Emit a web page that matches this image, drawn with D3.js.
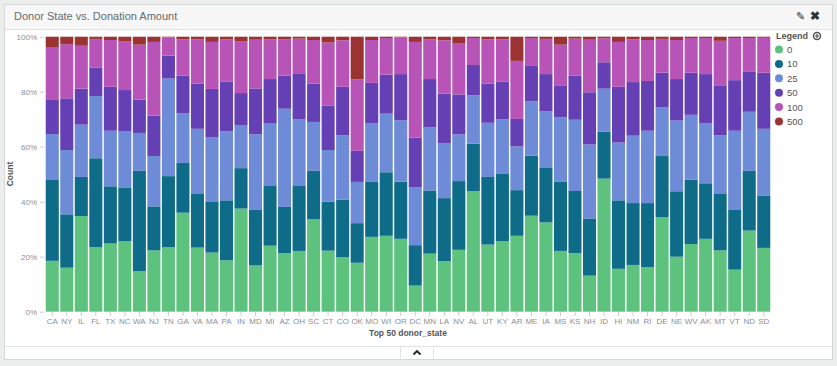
<!DOCTYPE html>
<html>
<head>
<meta charset="utf-8">
<script src="https://cdn.jsdelivr.net/npm/d3@7"></script>
<style>
  body { margin: 0; background: #eceeee; font-family: "Helvetica Neue", "Liberation Sans", Arial, sans-serif; }
  .axis text { fill: #8a8f92; font-size: 8px; }
  .axis path { display: none; }
  .axis line { stroke: #c9cccd; }
</style>
</head>
<body>
<script>
var states = ['CA','NY','IL','FL','TX','NC','WA','NJ','TN','GA','VA','MA','PA','IN','MD','MI','AZ','OH','SC','CT',
  'CO','OK','MO','WI','OR','DC','MN','LA','NV','AL','UT','KY','AR','ME','IA','MS','KS','NH','ID','HI',
  'NM','RI','DE','NE','WV','AK','MT','VT','ND','SD'];

var amounts = ['0', '10', '25', '50', '100', '500'];
var colors = ['#5cc27e', '#0f6c88', '#6d8bd6', '#6440b4', '#b854b8', '#9b3333'];

// share of donations (%) per state, one array per amount bucket
var amt0 = [18.5,16.0,34.8,23.5,24.8,25.6,14.8,22.3,23.5,36.0,23.3,21.5,18.7,37.5,16.8,24.0,21.3,22.1,33.6,22.2,
  19.8,17.8,27.2,27.6,26.5,9.5,21.1,18.4,22.5,43.8,24.4,25.7,27.6,34.9,32.5,22.1,21.3,13.1,48.4,15.6,
  17.0,16.2,34.4,20.0,24.6,26.5,22.3,15.3,29.5,23.2];
var amt10 = [29.4,19.4,14.2,32.3,20.8,19.4,36.4,16.0,25.8,18.1,19.5,18.4,21.8,14.7,20.4,21.7,16.8,23.6,17.6,17.8,
  21.0,14.4,20.0,23.1,20.8,14.7,23.0,22.9,25.0,17.3,24.6,24.4,16.6,21.9,20.0,25.1,22.6,20.8,17.1,24.9,
  22.5,23.3,22.2,23.8,23.4,20.2,20.5,21.7,21.7,18.9];
var amt25 = [16.7,23.4,19.0,22.6,20.2,20.5,13.8,18.3,35.5,18.1,23.7,23.6,25.1,15.7,27.3,22.7,35.7,24.2,17.8,18.8,
  23.4,15.0,21.4,21.3,22.3,21.1,22.9,20.0,17.0,17.6,19.7,19.8,15.9,19.7,20.3,23.5,25.9,26.9,15.6,21.0,
  24.5,26.3,17.8,25.7,23.6,21.9,21.4,28.8,21.5,24.4];
var amt50 = [12.4,18.8,13.1,10.3,16.0,15.1,12.1,14.7,8.3,13.6,16.5,17.5,18.0,11.6,16.7,16.2,12.0,16.8,14.0,16.2,
  17.6,11.3,14.6,14.2,16.8,18.0,17.6,18.0,14.5,11.0,14.2,13.7,10.0,13.1,13.6,11.4,16.0,19.0,9.6,20.3,
  19.5,18.1,12.5,15.1,15.3,17.8,17.9,18.4,14.5,20.4];
var amt100 = [19.0,19.7,15.6,10.5,17.0,17.8,20.0,26.8,6.7,13.2,16.0,17.1,15.4,18.9,17.7,14.4,13.2,12.6,15.8,22.9,
  16.9,26.0,15.6,13.3,13.4,34.8,14.4,19.4,18.7,9.8,16.1,15.4,21.1,9.9,12.8,15.0,13.5,19.1,8.7,16.3,
  15.5,14.9,12.3,14.2,12.6,13.1,16.4,15.3,12.3,12.7];
var amt500 = [4.0,2.7,3.3,0.8,1.2,1.6,2.9,1.9,0.2,1.0,1.0,1.9,1.0,1.6,1.1,1.0,1.0,0.7,1.2,2.1,
  1.3,15.5,1.2,0.5,0.2,1.9,1.0,1.3,2.3,0.5,1.0,1.0,8.8,0.5,0.8,2.9,0.7,1.1,0.6,1.9,
  1.0,1.2,0.8,1.2,0.5,0.5,1.5,0.5,0.5,0.4];

var series = [amt0, amt10, amt25, amt50, amt100, amt500];
var yTicks = [0, 0.2, 0.4, 0.6, 0.8, 1];

var W = 837, H = 366;
var svg = d3.select('body').append('svg')
    .attr('width', W)
    .attr('height', H);

// panel frame
svg.append('rect')
    .attr('x', 4.5).attr('y', 4.5)
    .attr('width', W - 9).attr('height', H - 11)
    .attr('fill', '#fff').attr('stroke', '#d5d8d9');
svg.append('rect')
    .attr('x', 5).attr('y', 5)
    .attr('width', W - 10).attr('height', 24)
    .attr('fill', '#f7f7f7');
svg.append('line')
    .attr('x1', 5).attr('x2', W - 5).attr('y1', 29.5).attr('y2', 29.5)
    .attr('stroke', '#e1e3e4');
svg.append('text')
    .attr('x', 14).attr('y', 20)
    .attr('fill', '#626b70').attr('font-size', 11)
    .text('Donor State vs. Donation Amount');

// header icons
svg.append('text')
    .attr('x', 796).attr('y', 20)
    .attr('fill', '#333').attr('font-size', 11)
    .text('\u270E');
svg.append('text')
    .attr('x', 810).attr('y', 20)
    .attr('fill', '#333').attr('font-size', 12).attr('font-weight', 'bold')
    .text('\u2716');

// footer with toggle tab
svg.append('line')
    .attr('x1', 5).attr('x2', W - 5).attr('y1', 346.5).attr('y2', 346.5)
    .attr('stroke', '#e1e3e4');
svg.append('path')
    .attr('d', 'M400.5,346.5 V358 M433.5,346.5 V358')
    .attr('stroke', '#e1e3e4');
svg.append('path')
    .attr('d', 'M413.5,354.5 L417,351 L420.5,354.5')
    .attr('fill', 'none').attr('stroke', '#222').attr('stroke-width', 1.8);

// chart
var x = d3.scaleBand()
    .domain(states)
    .range([45, 771])
    .paddingInner(0.1)
    .paddingOuter(0.05);

var y = d3.scaleLinear()
    .domain([0, 1])
    .range([311.7, 36.7]);

var rows = states.map(function(s, i) {
  var r = { state: s };
  var total = d3.sum(series, function(a) { return a[i]; });
  amounts.forEach(function(k, j) { r[k] = series[j][i] / total; });
  return r;
});

var stack = d3.stack().keys(amounts);
var layers = stack(rows);

svg.append('g')
  .selectAll('g')
    .data(layers)
  .enter().append('g')
    .attr('fill', function(d, i) { return colors[i]; })
  .selectAll('rect')
    .data(function(d) { return d; })
  .enter().append('rect')
    .attr('x', function(d) { return x(d.data.state); })
    .attr('width', x.bandwidth())
    .attr('y', function(d) { return y(d[1]); })
    .attr('height', function(d) { return y(d[0]) - y(d[1]); });

svg.append('g')
    .attr('class', 'axis')
    .attr('transform', 'translate(44,0)')
    .call(d3.axisLeft(y).tickValues(yTicks).tickFormat(d3.format('.0%')).tickSize(4).tickPadding(3));

svg.append('g')
    .attr('class', 'axis')
    .attr('transform', 'translate(0,312)')
    .call(d3.axisBottom(x).tickSize(4).tickPadding(2));

svg.append('text')
    .attr('transform', 'translate(13,174) rotate(-90)')
    .attr('text-anchor', 'middle')
    .attr('fill', '#555').attr('font-size', 8.5).attr('font-weight', 'bold')
    .text('Count');

svg.append('text')
    .attr('x', 408).attr('y', 336)
    .attr('text-anchor', 'middle')
    .attr('fill', '#555').attr('font-size', 8.5).attr('font-weight', 'bold')
    .text('Top 50 donor_state');

// legend
var legend = svg.append('g').attr('transform', 'translate(775,0)');
legend.append('text')
    .attr('x', 1).attr('y', 39)
    .attr('fill', '#555').attr('font-size', 9).attr('font-weight', 'bold')
    .text('Legend');
legend.append('circle')
    .attr('cx', 42).attr('cy', 36).attr('r', 3.5)
    .attr('fill', 'none').attr('stroke', '#555').attr('stroke-width', 1.5);
legend.append('path')
    .attr('d', 'M40,36 H44 M42,34 V38')
    .attr('stroke', '#555').attr('stroke-width', 1.2);

var item = legend.selectAll('.item')
    .data(amounts)
  .enter().append('g')
    .attr('class', 'item')
    .attr('transform', function(d, i) { return 'translate(0,' + (49.5 + i * 14.4) + ')'; });
item.append('circle')
    .attr('cx', 4).attr('r', 4)
    .attr('fill', function(d, i) { return colors[i]; });
item.append('text')
    .attr('x', 12).attr('y', 3.5)
    .attr('fill', '#555').attr('font-size', 9.5)
    .text(function(d) { return d; });
</script>
</body>
</html>
